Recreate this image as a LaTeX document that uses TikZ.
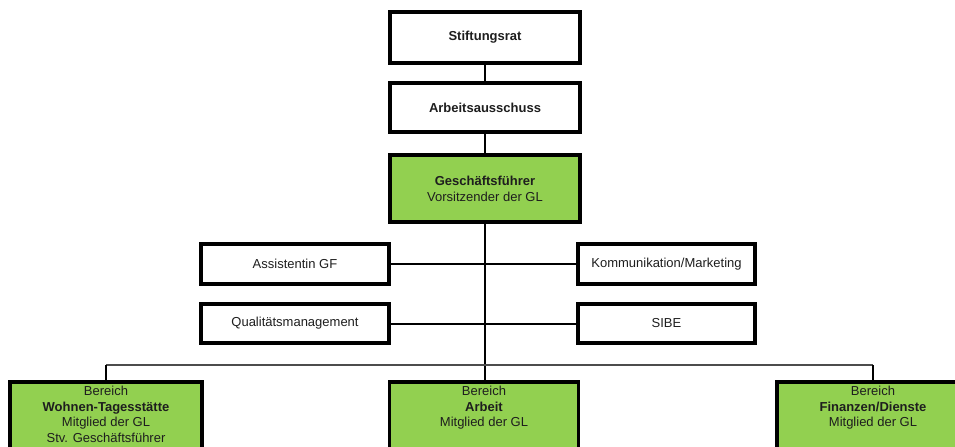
\documentclass[tikz,border=0pt]{standalone}
\usepackage{fontspec}
\setmainfont{Liberation Sans}
\definecolor{boxgreen}{HTML}{92D050}
\definecolor{txt}{HTML}{1E1E1E}
\begin{document}
\begin{tikzpicture}[x=0.75pt,y=-0.75pt,
  every node/.style={font=\fontsize{9.75}{11.9}\selectfont, text=txt, align=center, inner sep=0pt},
  orgbox/.style={draw=black, line width=2.6pt, fill=white, minimum width=#1*0.75pt},
  greenbox/.style={fill=boxgreen},
  conn/.style={draw=black, line width=1.5pt},
  bus/.style={draw=black!70, line width=1pt}]
\useasboundingbox (0,0) rectangle (955,446);
\clip (0,0) rectangle (955,446);
% top chain
\node[orgbox=190, minimum height=51*0.75pt] (stift) at (485,37.5) {\textbf{Stiftungsrat}};
\node[orgbox=190, minimum height=49*0.75pt] (arb) at (485,107.5) {\textbf{Arbeitsausschuss}};
\node[orgbox=190, greenbox, minimum height=67*0.75pt] (gf) at (485,188.5) {\textbf{Geschäftsführer}\\Vorsitzender der GL};
% staff
\node[orgbox=188, minimum height=40*0.75pt] (assist) at (295,264) {Assistentin GF};
\node[orgbox=177, minimum height=40*0.75pt] (komm) at (666.5,264) {Kommunikation/Marketing};
\node[orgbox=188, minimum height=39*0.75pt] (qual) at (295,323.5) {Qualitätsmanagement};
\node[orgbox=177, minimum height=39*0.75pt] (sibe) at (666.5,323.5) {SIBE};
% bottom boxes
\node[orgbox=192, greenbox, minimum height=80*0.75pt] (wohn) at (106,422) {};
\node[orgbox=189, greenbox, minimum height=80*0.75pt] (arbeit) at (484,422) {};
\node[orgbox=192, greenbox, minimum height=80*0.75pt] (fin) at (873,422) {};
\node[anchor=north] (wohnt) at (106,385.5) {Bereich\\\textbf{Wohnen-Tagesstätte}\\Mitglied der GL\\Stv. Geschäftsführer};
\node[anchor=north] (arbeitt) at (484,385.5) {Bereich\\\textbf{Arbeit}\\Mitglied der GL};
\node[anchor=north] (fint) at (873,385.5) {Bereich\\\textbf{Finanzen/Dienste}\\Mitglied der GL};
% connectors
\coordinate (busL) at (106,365);
\coordinate (busR) at (873,365);
\draw[conn] (stift.south) -- (arb.north);
\draw[conn] (arb.south) -- (gf.north);
\draw[conn] (gf.south) -- (gf.south |- arbeit.north);
\draw[conn] (assist.east) -- (komm.west);
\draw[conn] (qual.east) -- (sibe.west);
\draw[bus] (busL) -- (busR);
\draw[conn] (busL) -- (wohn.north);
\draw[conn] (busR) -- (fin.north);
\end{tikzpicture}
\end{document}
